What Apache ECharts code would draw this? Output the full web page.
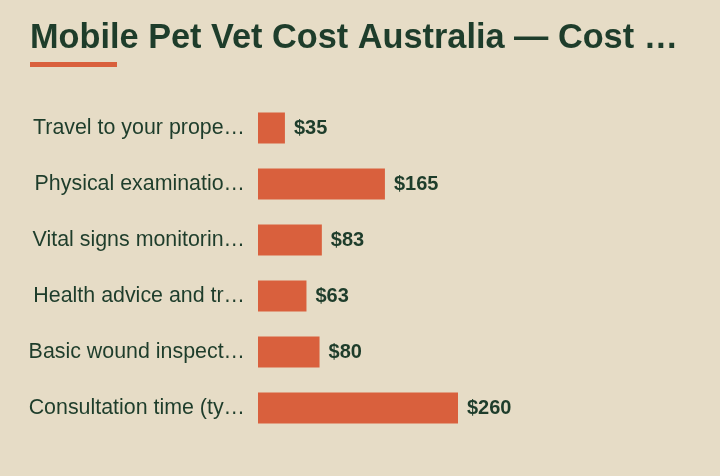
<!DOCTYPE html>
<html>
<head>
<meta charset="utf-8">
<script src="https://cdn.jsdelivr.net/npm/echarts@6/dist/echarts.min.js"></script>
<style>
  html, body { margin: 0; padding: 0; background: #e6dcc6; }
  #chart { width: 720px; height: 476px; }
</style>
</head>
<body>
<div id="chart"></div>
<script>
// data (labels appear cut short there)
const categories = [
  'Travel to your prope…',
  'Physical examinatio…',
  'Vital signs monitorin…',
  'Health advice and tr…',
  'Basic wound inspect…',
  'Consultation time (ty…'
]
const costs = [35, 165, 83, 63, 80, 260]

const ink = '#1e3d2b'
const accent = '#d9603d'

const chart = echarts.init(document.getElementById('chart'))
chart.setOption({
  backgroundColor: '#e6dcc6',
  animation: false,
  title: {
    text: 'Mobile Pet Vet Cost Australia — Cost …',
    left: 30,
    top: 22,
    padding: 0,
    textStyle: {
      color: ink,
      fontSize: 34.3,
      fontWeight: 'bold',
      fontFamily: 'Liberation Sans'
    }
  },
  graphic: [
    { type: 'rect', left: 30, top: 62, shape: { width: 87, height: 5 }, style: { fill: accent } }
  ],
  grid: { left: 258, top: 100, width: 200, height: 336 },
  xAxis: {
    type: 'value',
    min: 0,
    max: 260,
    show: false
  },
  yAxis: {
    type: 'category',
    inverse: true,
    data: categories,
    axisLine: { show: false },
    axisTick: { show: false },
    axisLabel: {
      color: ink,
      fontSize: 21.4,
      fontFamily: 'Liberation Sans',
      margin: 13
    }
  },
  series: [{
    type: 'bar',
    data: costs,
    barWidth: 31,
    itemStyle: { color: accent },
    label: {
      show: true,
      position: 'right',
      distance: 9,
      color: ink,
      fontSize: 20,
      fontWeight: 'bold',
      fontFamily: 'Liberation Sans',
      formatter: p => '$' + p.value
    }
  }]
})
</script>
</body>
</html>
